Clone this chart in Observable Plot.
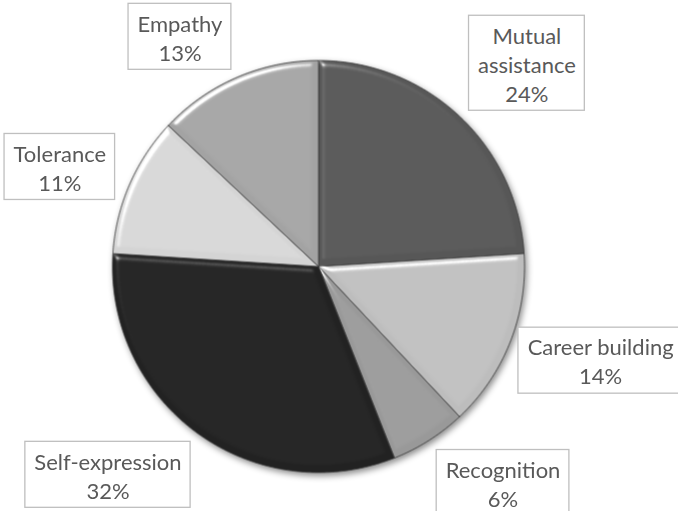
<!DOCTYPE html>
<html><head><meta charset="utf-8">
<script src="https://cdn.jsdelivr.net/npm/d3@7"></script>
<script src="https://cdn.jsdelivr.net/npm/@observablehq/plot@0.6"></script>
<style>
html,body{margin:0;padding:0;background:#fff;overflow:hidden;}
#chart svg{display:block;overflow:hidden;}
</style>
</head><body><div id="chart"></div>
<script>
// ---- data ----
const categories = ["Mutual assistance", "Career building", "Recognition", "Self-expression", "Tolerance", "Empathy"];
const shares = [24, 14, 6, 32, 11, 13];
const labelNames = ["Mutual\nassistance", "Career building", "Recognition", "Self-expression", "Tolerance", "Empathy"];

// ---- layout / style ----
const W = 678, H = 511, cx = 318, cy = 266, rPx = 206;
const sliceColors = ["#575757", "#bdbdbd", "#999999", "#222222", "#d4d4d4", "#a3a3a3"];
const labelRadius = 1.4;
const labelNudge = [[11, 7], [14, -12], [30, -27], [-41, -25], [6, 15], [-24, 35]]; // px
const fontSize = 22, lineH = 29, fontFamily = "Lato";

const arcs = d3.pie().sort(null).value(d => d)(shares);

// slice polygons
const rows = [];
arcs.forEach((a, i) => {
  const cat = categories[i];
  rows.push({cat, x: 0, y: 0});
  const n = Math.max(2, Math.ceil((a.endAngle - a.startAngle) / (Math.PI / 360)));
  for (let k = 0; k <= n; k++) {
    const t = a.startAngle + (a.endAngle - a.startAngle) * k / n;
    rows.push({cat, x: Math.sin(t), y: Math.cos(t)});
  }
  rows.push({cat, x: 0, y: 0});
});

// labels
const ctx = document.createElement("canvas").getContext("2d");
ctx.font = `${fontSize}px ${fontFamily}`;
const labels = arcs.map((a, i) => {
  const m = (a.startAngle + a.endAngle) / 2;
  const text = labelNames[i] + "\n" + shares[i] + "%";
  const lines = text.split("\n");
  const w = d3.max(lines, l => ctx.measureText(l).width) + 18;
  const h = lines.length * lineH + 8;
  const x = labelRadius * Math.sin(m) + labelNudge[i][0] / rPx;
  const y = labelRadius * Math.cos(m) - labelNudge[i][1] / rPx;
  return {text, x, y, x1: x - w / 2 / rPx, x2: x + w / 2 / rPx, y1: y - h / 2 / rPx, y2: y + h / 2 / rPx};
});

const chart = Plot.plot({
  width: W, height: H,
  marginTop: 0, marginRight: 0, marginBottom: 0, marginLeft: 0,
  x: {domain: [-cx / rPx, (W - cx) / rPx], axis: null},
  y: {domain: [-(H - cy) / rPx, cy / rPx], axis: null},
  color: {type: "ordinal", domain: categories, range: sliceColors},
  style: {background: "#fff"},
  marks: [
    Plot.line(rows, {x: "x", y: "y", z: "cat", fill: "cat", stroke: "#3a3a3a", strokeWidth: 0.8, strokeLinejoin: "round", curve: "linear"}),
    Plot.rect(labels, {x1: "x1", x2: "x2", y1: "y1", y2: "y2", fill: "#fff", stroke: "#bfbfbf", strokeWidth: 1.3}),
    Plot.text(labels, {x: "x", y: "y", text: "text", fill: "#595959", fontSize: fontSize, fontFamily: fontFamily, lineHeight: lineH / fontSize, textAnchor: "middle", lineAnchor: "middle"})
  ]
});

document.getElementById("chart").appendChild(chart);

// bevel + shadow styling
const svg = d3.select(chart);
const defs = svg.insert("defs", ":first-child");
const bevel = defs.append("filter").attr("id", "bevel").attr("color-interpolation-filters", "sRGB")
  .attr("x", "-5%").attr("y", "-5%").attr("width", "110%").attr("height", "110%");
bevel.append("feGaussianBlur").attr("in", "SourceAlpha").attr("stdDeviation", 3).attr("result", "blur");
const spec = bevel.append("feSpecularLighting").attr("in", "blur").attr("surfaceScale", 4).attr("specularConstant", 1.0)
  .attr("specularExponent", 35).attr("lighting-color", "#ffffff").attr("result", "spec");
spec.append("feDistantLight").attr("azimuth", 235).attr("elevation", 40);
bevel.append("feComposite").attr("in", "spec").attr("in2", "SourceAlpha").attr("operator", "in").attr("result", "specIn");
bevel.append("feComposite").attr("in", "SourceGraphic").attr("in2", "specIn").attr("operator", "arithmetic")
  .attr("k1", 0).attr("k2", 1).attr("k3", 0.6).attr("k4", 0);
const shadow = defs.append("filter").attr("id", "shadow").attr("color-interpolation-filters", "sRGB")
  .attr("x", "-10%").attr("y", "-10%").attr("width", "120%").attr("height", "120%");
shadow.append("feDropShadow").attr("dx", 2).attr("dy", 3).attr("stdDeviation", 3).attr("flood-color", "#000").attr("flood-opacity", 0.45);

const lineGroup = svg.select("g[aria-label=line]");
lineGroup.attr("filter", "url(#shadow)");
lineGroup.selectAll("path").attr("filter", "url(#bevel)");
</script>
</body></html>
